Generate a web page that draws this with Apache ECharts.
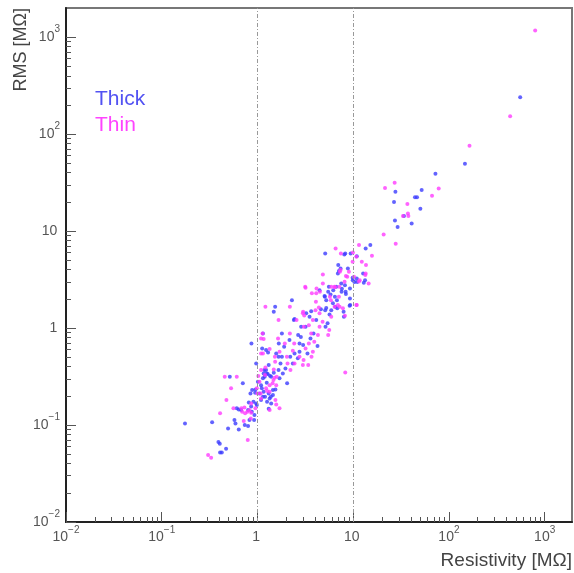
<!DOCTYPE html>
<html>
<head>
<meta charset="utf-8">
<script src="https://cdn.jsdelivr.net/npm/echarts@6/dist/echarts.min.js"></script>
<style>
  html, body { margin: 0; padding: 0; background: #fff; }
  #main { width: 574px; height: 573px; }
</style>
</head>
<body>
<div id="main"></div>
<script>
// [resistivity MOhm, RMS MOhm]
const thickPoints = [
  [555, 240], [147, 49.4], [72.3, 39.0], [27.6, 25.4], [51.9, 26.5], [26.7, 20.0], [44.2, 22.3], [46.4, 22.3],
  [50.3, 17.0], [33.9, 14.3], [27.3, 12.9], [40.8, 12.0], [29.1, 11.0],
  [15.1, 7.17], [13.5, 6.63], [5.1, 5.89], [8.26, 5.89], [9.4, 5.89], [6.98, 4.46], [8.8, 4.12], [7.38, 4.12],
  [6.92, 3.66], [12.7, 3.66], [9.9, 3.12], [13.3, 3.12], [7.5, 2.89], [8.2, 2.77], [9.25, 2.56], [6.65, 2.67],
  [5.48, 2.37], [7.56, 2.37], [8.33, 2.37], [5.06, 2.10], [6.44, 2.10], [6.76, 1.94], [2.29, 1.94], [5.23, 1.94],
  [6.14, 1.80], [9.3, 1.73], [1.53, 1.66], [6.81, 1.60], [6.49, 1.66], [1.48, 1.47], [3.23, 1.42], [4.6, 1.56],
  [5.1, 1.53], [8.0, 1.31], [2.40, 1.21], [4.11, 1.21], [5.4, 1.12], [3.18, 1.03], [2.86, 1.03], [5.14, 1.03],
  [1.14, 0.88], [1.80, 0.88], [2.66, 0.85], [2.84, 0.81], [3.85, 0.88], [0.865, 0.695], [1.12, 0.617], [1.67, 0.695],
  [2.16, 0.752], [2.75, 0.695], [3.0, 0.668], [3.58, 0.782], [4.24, 0.652], [1.23, 0.593], [1.90, 0.642], [2.44, 0.548],
  [2.75, 0.57], [3.33, 0.548], [1.80, 0.506], [2.20, 0.506], [2.64, 0.487], [0.97, 0.432], [1.31, 0.415], [1.74, 0.432],
  [2.34, 0.432], [1.18, 0.369], [1.25, 0.341], [1.66, 0.369], [1.96, 0.384], [1.84, 0.341], [0.514, 0.315], [1.14, 0.303],
  [1.39, 0.315], [1.70, 0.303], [0.703, 0.269], [1.25, 0.273], [2.04, 0.269], [0.953, 0.233], [1.11, 0.239], [1.45, 0.230],
  [0.845, 0.212], [0.946, 0.215], [1.31, 0.212], [1.20, 0.196], [1.38, 0.196], [0.908, 0.174], [0.97, 0.167], [1.26, 0.174],
  [1.39, 0.167], [0.608, 0.149], [0.675, 0.143], [0.798, 0.143], [0.873, 0.137], [0.859, 0.155], [0.93, 0.127], [0.575, 0.113],
  [0.825, 0.113], [0.923, 0.113], [0.175, 0.104], [0.336, 0.107], [0.589, 0.104], [0.737, 0.100], [0.798, 0.098], [0.493, 0.092],
  [0.638, 0.090], [0.391, 0.067], [0.404, 0.064], [0.470, 0.057], [0.407, 0.052], [0.424, 0.052],
  [8.07, 5.74], [10.9, 5.52], [7.09, 3.87], [9.86, 3.30], [10.9, 3.25], [10.3, 2.98], [11.0, 2.99], [12.9, 2.93],
  [5.57, 2.67], [4.45, 2.46], [6.19, 2.46], [5.02, 2.14], [5.80, 2.22], [7.62, 2.54], [8.39, 2.24], [9.25, 2.02],
  [9.17, 1.70], [3.50, 1.31], [3.64, 1.49], [5.23, 1.61], [5.66, 1.38], [5.90, 1.53], [7.94, 1.47], [2.44, 1.24],
  [1.16, 0.341], [1.23, 0.369], [1.28, 0.336], [1.19, 0.315], [1.35, 0.323], [1.48, 0.347], [1.01, 0.280], [1.09, 0.258],
  [0.88, 0.230], [1.05, 0.212], [1.16, 0.221], [1.14, 0.196], [1.09, 0.181], [1.34, 0.188], [1.45, 0.204], [1.54, 0.233],
  [0.812, 0.171], [0.985, 0.161], [1.31, 0.147], [0.638, 0.145], [1.29, 0.561], [1.57, 0.548], [1.66, 0.506]
];

const thinPoints = [
  [796, 1172], [436, 153], [164, 75.7], [78.2, 27.5], [21.5, 27.9], [27.1, 31.5], [66.6, 23.1], [36.8, 19.0],
  [37.3, 15.2], [37.7, 14.3], [33.1, 14.3], [20.8, 9.25], [27.8, 7.40],
  [11.5, 7.17], [6.55, 6.63], [7.44, 5.89], [9.94, 6.03], [15.7, 5.57], [10.8, 5.44], [9.86, 4.83], [13.6, 4.46],
  [7.27, 3.81], [9.02, 3.81], [13.5, 3.66], [10.2, 3.38], [8.67, 3.38], [11.7, 3.12], [14.5, 2.89], [8.13, 3.0],
  [4.82, 2.89], [3.15, 2.67], [6.39, 2.67], [5.90, 2.67], [4.49, 2.37], [4.11, 2.28], [5.71, 2.10], [7.09, 2.10],
  [5.85, 1.94], [4.08, 1.87], [10.9, 1.73], [1.21, 1.66], [2.18, 1.66], [7.21, 1.66], [7.81, 1.60], [3.0, 1.47],
  [4.45, 1.42], [5.90, 1.31], [1.66, 1.21], [2.56, 1.21], [3.79, 1.21], [4.79, 1.16], [3.44, 1.07], [3.05, 1.03],
  [4.45, 1.03], [5.62, 0.954], [1.13, 0.88], [1.09, 0.782], [2.18, 0.88], [3.64, 0.88], [4.28, 0.85], [5.48, 0.85],
  [1.64, 0.782], [1.93, 0.695], [2.42, 0.695], [3.44, 0.695], [3.92, 0.723], [1.09, 0.548], [1.70, 0.57], [2.34, 0.584],
  [3.18, 0.617], [3.79, 0.57], [3.67, 0.506], [1.52, 0.506], [2.03, 0.506], [2.75, 0.506], [3.03, 0.468], [1.53, 0.450],
  [2.06, 0.432], [2.44, 0.432], [2.98, 0.415], [3.39, 0.415], [1.48, 0.375], [2.21, 0.369], [8.26, 0.349], [0.455, 0.315],
  [0.608, 0.315], [1.20, 0.328], [1.59, 0.315], [1.02, 0.320], [1.05, 0.280], [1.47, 0.291], [1.34, 0.258], [0.530, 0.239],
  [1.23, 0.239], [1.0, 0.212], [1.08, 0.212], [0.474, 0.181], [1.54, 0.181], [0.561, 0.149], [0.680, 0.149], [0.786, 0.137],
  [0.953, 0.149], [1.34, 0.143], [1.70, 0.149], [0.407, 0.132], [0.691, 0.137], [0.743, 0.132], [0.859, 0.134], [0.719, 0.110],
  [0.851, 0.117], [0.792, 0.070], [0.305, 0.049], [0.328, 0.046],
  [12.3, 4.83], [7.38, 3.96], [8.39, 3.44], [13.4, 3.52], [11.5, 3.03], [4.82, 3.57], [3.18, 2.61], [6.44, 2.63],
  [7.15, 2.67], [4.14, 2.56], [3.70, 2.28], [10.8, 1.73], [2.98, 1.42], [3.08, 1.35], [4.04, 1.53], [4.38, 1.63],
  [6.39, 1.66], [6.92, 1.73], [8.2, 1.34],
  [1.16, 0.770], [1.34, 0.608], [1.14, 0.548], [1.09, 0.369], [1.21, 0.393], [1.51, 0.308], [1.44, 0.269], [1.26, 0.224],
  [0.985, 0.239], [1.34, 0.221], [1.57, 0.258], [0.859, 0.167], [0.731, 0.152], [0.825, 0.143], [1.57, 0.163], [1.09, 0.188]
];

const majorTicks = [0.01, 0.1, 1, 10, 100, 1000];
const tickBase = ['10', '10', '1', '10', '10', '10'];
const tickExp = ['\u22122', '\u22121', ' ', ' ', '2', '3'];
const xMax = 1930;
const yMax = 2000;
const cutLines = [1, 10];

const font = 'Liberation Sans, Arial, Helvetica, sans-serif';

function minorTicks(max) {
  const out = [];
  for (let e = -2; e <= 3; e++) {
    for (let m = 2; m <= 9; m++) {
      const v = m * Math.pow(10, e);
      if (v < max) out.push(v);
    }
  }
  return out;
}

function tickFormatter(val) {
  let idx = 0, best = Infinity;
  majorTicks.forEach((t, i) => {
    const d = Math.abs(Math.log10(val) - Math.log10(t));
    if (d < best) { best = d; idx = i; }
  });
  return '{b|' + tickBase[idx] + '}{s|' + tickExp[idx] + '}';
}

const rich = {
  b: { fontSize: 14, color: '#555', fontFamily: font },
  s: { fontSize: 10, color: '#555', fontFamily: font, verticalAlign: 'top', padding: [0, 0, 15, 0] }
};

function mainAxis(max, margin) {
  return {
    type: 'log', min: 0.01, max: max,
    axisLine: { show: true, lineStyle: { color: '#222', width: 2 } },
    axisTick: { show: true, inside: true, length: 10, customValues: majorTicks, lineStyle: { color: '#555' } },
    axisLabel: { show: true, customValues: majorTicks, formatter: tickFormatter, rich: rich, margin: margin },
    splitLine: { show: false }, minorTick: { show: false }
  };
}

function minorAxis(max) {
  return {
    type: 'log', min: 0.01, max: max,
    axisLine: { show: false },
    axisTick: { show: true, inside: true, length: 5, customValues: minorTicks(max), lineStyle: { color: '#555' } },
    axisLabel: { show: false },
    splitLine: { show: false }
  };
}

const myChart = echarts.init(document.getElementById('main'));
myChart.setOption({
  animation: false,
  grid: { left: 66, right: 2, top: 8, bottom: 51, show: true, borderColor: '#777', borderWidth: 2 },
  xAxis: [
    Object.assign(mainAxis(xMax, 3), { position: 'bottom' }),
    Object.assign(minorAxis(xMax), { position: 'bottom' })
  ],
  yAxis: [
    Object.assign(mainAxis(yMax, 6), { position: 'left' }),
    Object.assign(minorAxis(yMax), { position: 'left' })
  ],
  legend: {
    left: 85, top: 84, orient: 'vertical', icon: 'none', itemWidth: 0, itemHeight: 0, itemGap: 5,
    selectedMode: false,
    textStyle: { fontSize: 21, fontFamily: font },
    data: [
      { name: 'Thick', textStyle: { color: '#5252f2' } },
      { name: 'Thin', textStyle: { color: '#ff44ff' } }
    ]
  },
  graphic: [
    {
      type: 'text', x: 21, y: 8, rotation: Math.PI / 2,
      style: { text: 'RMS [M\u03a9]', fill: '#444', font: '18px ' + font, align: 'right', verticalAlign: 'middle', textAlign: 'right', textVerticalAlign: 'middle' }
    },
    {
      type: 'text', x: 572, y: 561,
      style: { text: 'Resistivity [M\u03a9]', fill: '#444', font: '19px ' + font, align: 'right', verticalAlign: 'middle', textAlign: 'right', textVerticalAlign: 'middle' }
    }
  ],
  series: [
    {
      name: 'Thick', type: 'scatter', symbol: 'circle', symbolSize: 4,
      itemStyle: { color: '#3c3cff', opacity: 0.8 },
      data: thickPoints,
      markLine: {
        silent: true, symbol: 'none', label: { show: false },
        lineStyle: { color: '#999', width: 1, type: [4, 2, 1, 2] },
        data: cutLines.map(v => ({ xAxis: v }))
      }
    },
    {
      name: 'Thin', type: 'scatter', symbol: 'circle', symbolSize: 4,
      itemStyle: { color: '#ff3cff', opacity: 0.8 },
      data: thinPoints
    }
  ]
});
window.onresize = myChart.resize;
</script>
</body>
</html>
